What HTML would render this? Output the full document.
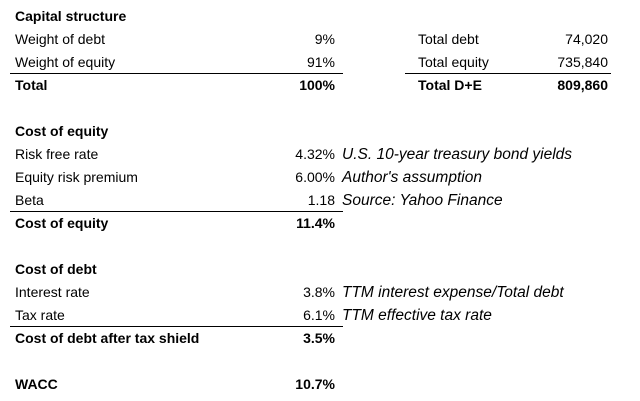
<!DOCTYPE html>
<html><head><meta charset="utf-8"><style>
body{margin:0;width:640px;height:401px;background:#fff;font-family:"Liberation Sans",sans-serif;font-size:14px;color:#000;position:relative;overflow:hidden}
.r{position:absolute;height:23px;line-height:23px;white-space:nowrap}
.l{left:15px}.v{right:305px;text-align:right}.c{left:342px;font-style:italic;font-size:15.5px}
.l2{left:418px}.v2{right:32px;text-align:right}
.b{font-weight:bold}
.ln{position:absolute;height:1px;background:#000}
</style></head><body>
<div class="r l b" style="top:5px">Capital structure</div>
<div class="r l" style="top:28px">Weight of debt</div>
<div class="r v" style="top:28px">9%</div>
<div class="r l2" style="top:28px">Total debt</div>
<div class="r v2" style="top:28px">74,020</div>
<div class="r l" style="top:51px">Weight of equity</div>
<div class="r v" style="top:51px">91%</div>
<div class="r l2" style="top:51px">Total equity</div>
<div class="r v2" style="top:51px">735,840</div>
<div class="ln" style="top:73px;left:10px;width:333px"></div>
<div class="ln" style="top:73px;left:405px;width:206px"></div>
<div class="r l b" style="top:74px">Total</div>
<div class="r v b" style="top:74px">100%</div>
<div class="r l2 b" style="top:74px">Total D+E</div>
<div class="r v2 b" style="top:74px">809,860</div>

<div class="r l b" style="top:120px">Cost of equity</div>
<div class="r l" style="top:143px">Risk free rate</div>
<div class="r v" style="top:143px">4.32%</div>
<div class="r c" style="top:143px">U.S. 10-year treasury bond yields</div>
<div class="r l" style="top:166px">Equity risk premium</div>
<div class="r v" style="top:166px">6.00%</div>
<div class="r c" style="top:166px">Author's assumption</div>
<div class="r l" style="top:189px">Beta</div>
<div class="r v" style="top:189px">1.18</div>
<div class="r c" style="top:189px">Source: Yahoo Finance</div>
<div class="ln" style="top:211px;left:10px;width:333px"></div>
<div class="r l b" style="top:212px">Cost of equity</div>
<div class="r v b" style="top:212px">11.4%</div>

<div class="r l b" style="top:258px">Cost of debt</div>
<div class="r l" style="top:281px">Interest rate</div>
<div class="r v" style="top:281px">3.8%</div>
<div class="r c" style="top:281px">TTM interest expense/Total debt</div>
<div class="r l" style="top:304px">Tax rate</div>
<div class="r v" style="top:304px">6.1%</div>
<div class="r c" style="top:304px">TTM effective tax rate</div>
<div class="ln" style="top:326px;left:10px;width:333px"></div>
<div class="r l b" style="top:327px">Cost of debt after tax shield</div>
<div class="r v b" style="top:327px">3.5%</div>

<div class="r l b" style="top:373px">WACC</div>
<div class="r v b" style="top:373px">10.7%</div>
</body></html>
